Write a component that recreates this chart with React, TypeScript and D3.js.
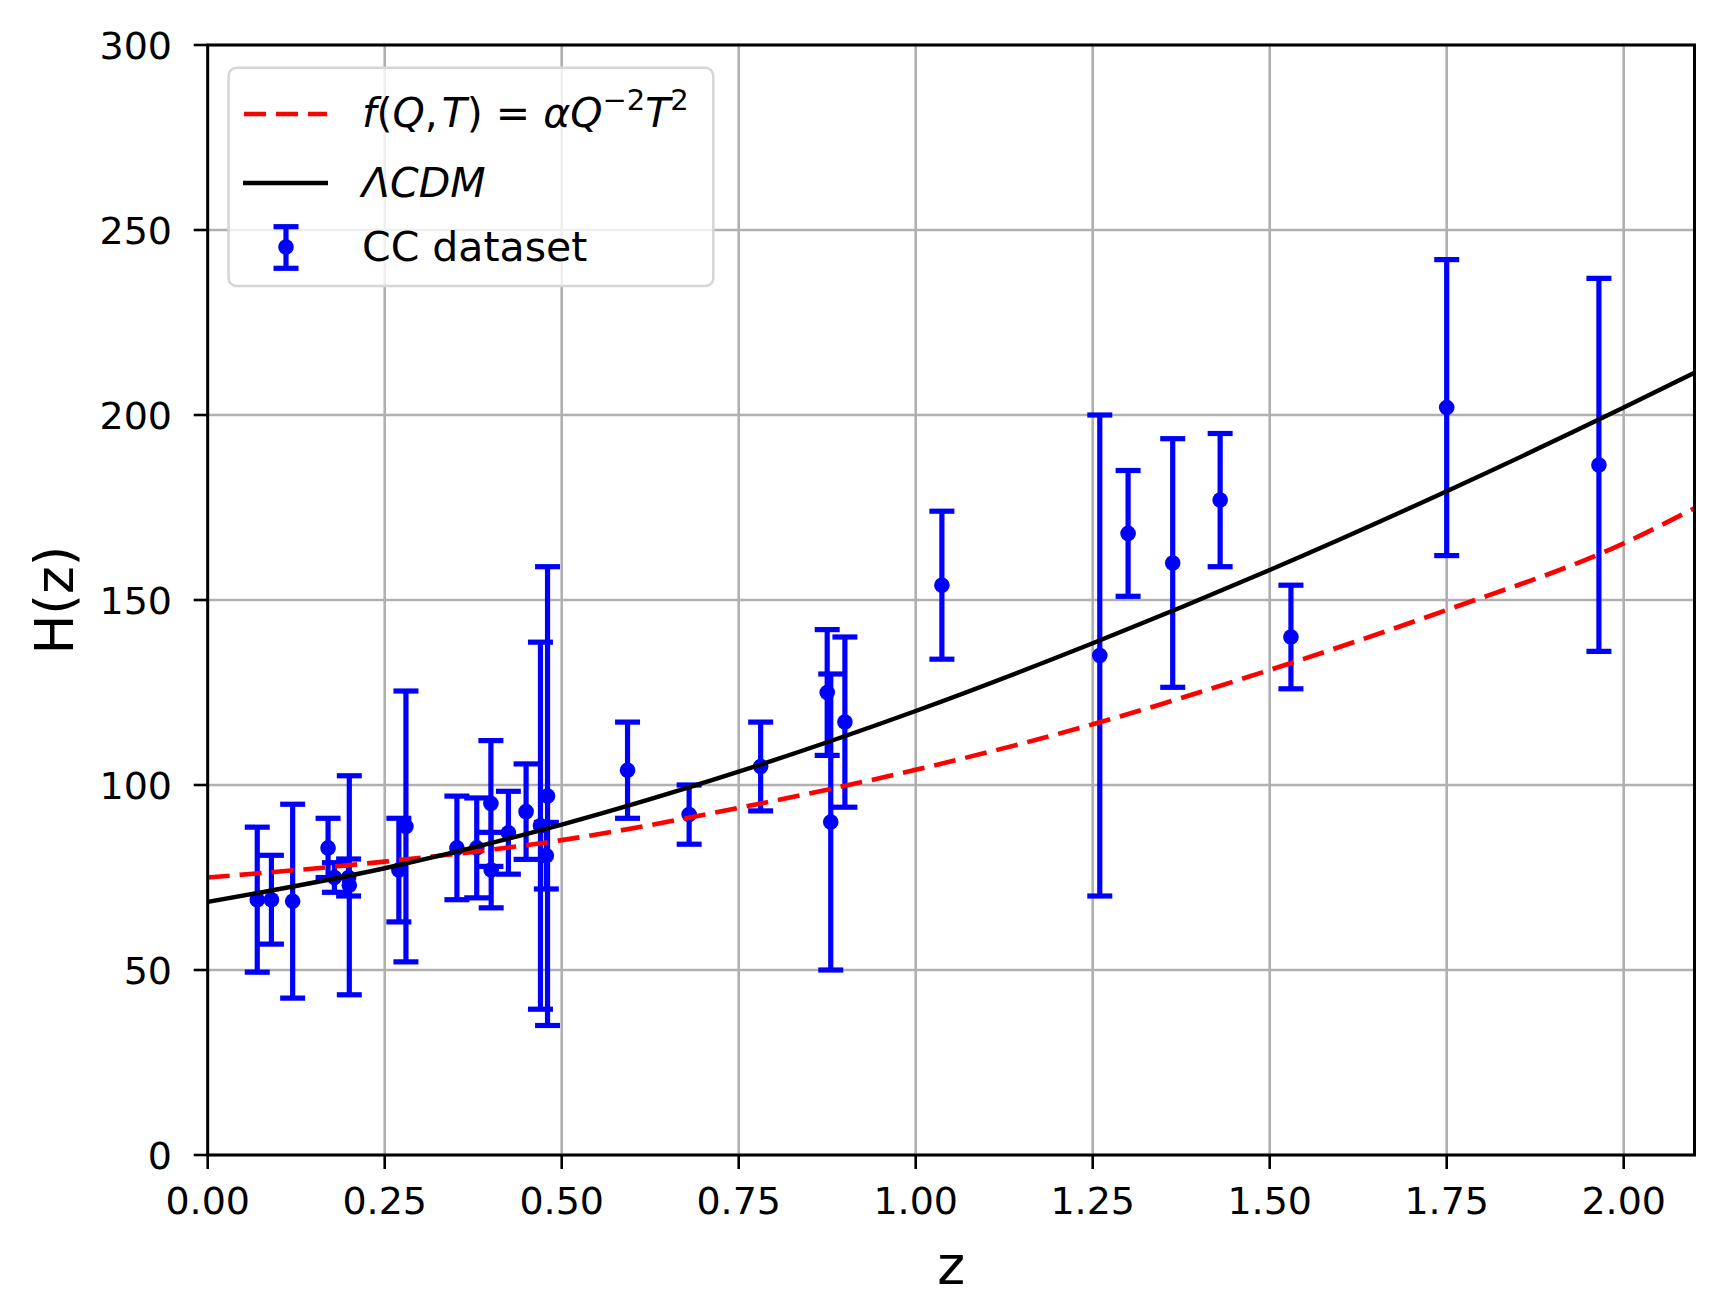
import React from 'react';
import * as d3 from 'd3';

// CC dataset (redshift, H(z), 1-sigma error)
const ccZ = [0.07, 0.09, 0.12, 0.17, 0.179, 0.199, 0.2, 0.27, 0.28, 0.352, 0.38, 0.4, 0.4004, 0.4247, 0.4497, 0.47, 0.4783, 0.48, 0.593, 0.68, 0.781, 0.875, 0.88, 0.9, 1.037, 1.26, 1.3, 1.363, 1.43, 1.53, 1.75, 1.965];
const ccH = [69, 69, 68.6, 83, 75, 75, 72.9, 77, 88.8, 83, 83, 95, 77, 87.1, 92.8, 89, 80.9, 97, 104, 92, 105, 125, 90, 117, 154, 135, 168, 160, 177, 140, 202, 186.5];
const ccErr = [19.6, 12, 26.2, 8, 4, 5, 29.6, 14, 36.6, 14, 13.5, 17, 10.2, 11.2, 12.9, 49.6, 9, 62, 13, 8, 12, 17, 40, 23, 20, 65, 17, 33.6, 18, 14, 40, 50.4];

// model curves
const curveZ = [0, 0.25, 0.5, 0.75, 1.0, 1.25, 1.5, 1.75, 2.0, 2.1];
const lcdmH = [68.4, 77.5, 89.3, 103.6, 120.0, 138.3, 158.1, 179.4, 202.0, 211.4];
const fqtH = [75.0, 79.3, 85.1, 93.8, 104.1, 116.4, 131.1, 147.3, 165.3, 174.8];

const xTicks = [0, 0.25, 0.5, 0.75, 1.0, 1.25, 1.5, 1.75, 2.0];
const yTicks = [0, 50, 100, 150, 200, 250, 300];

const W = 1728;
const H = 1313;
const left = 207.7, right = 1694.5, top = 45, bottom = 1155;

const font = '"DejaVu Sans", sans-serif';
const BLUE = '#0000ff';

export default function App() {
  const x = d3.scaleLinear().domain([0, 2.1]).range([left, right]);
  const y = d3.scaleLinear().domain([0, 300]).range([bottom, top]);

  const line = d3
    .line<number>()
    .x((_, i) => x(curveZ[i]))
    .y((d) => y(d))
    .curve(d3.curveMonotoneX);

  const capW = 12.5;

  return (
    <svg
      width={W}
      height={H}
      style={{ position: 'absolute', left: 0, top: 0, background: '#fff' }}
      fontFamily={font}
    >
      <defs>
        <clipPath id="plot">
          <rect x={left} y={top} width={right - left} height={bottom - top} />
        </clipPath>
      </defs>

      {/* grid */}
      <g stroke="#b0b0b0" strokeWidth={2.6}>
        {xTicks.map((t) => (
          <line key={'gx' + t} x1={x(t)} x2={x(t)} y1={top} y2={bottom} />
        ))}
        {yTicks.map((t) => (
          <line key={'gy' + t} x1={left} x2={right} y1={y(t)} y2={y(t)} />
        ))}
      </g>

      <g clipPath="url(#plot)">
        {/* error bars */}
        <g stroke={BLUE} strokeWidth={5.2}>
          {ccZ.map((z, i) => {
            const cx = x(z);
            const y0 = y(ccH[i] - ccErr[i]);
            const y1 = y(ccH[i] + ccErr[i]);
            return (
              <g key={'e' + i}>
                <line x1={cx} x2={cx} y1={y0} y2={y1} />
                <line x1={cx - capW} x2={cx + capW} y1={y0} y2={y0} />
                <line x1={cx - capW} x2={cx + capW} y1={y1} y2={y1} />
              </g>
            );
          })}
        </g>
        <g fill={BLUE}>
          {ccZ.map((z, i) => (
            <circle key={'p' + i} cx={x(z)} cy={y(ccH[i])} r={7.8} />
          ))}
        </g>

        {/* f(Q,T) model */}
        <path d={line(fqtH) || ''} fill="none" stroke="#ff0000" strokeWidth={4.6} strokeDasharray="22,10" />
        {/* LCDM */}
        <path d={line(lcdmH) || ''} fill="none" stroke="#000" strokeWidth={4.4} />
      </g>

      {/* spines */}
      <rect x={left} y={top} width={right - left} height={bottom - top} fill="none" stroke="#000" strokeWidth={3} />

      {/* x axis ticks */}
      <g>
        {xTicks.map((t) => (
          <g key={'xt' + t}>
            <line x1={x(t)} x2={x(t)} y1={bottom} y2={bottom + 14} stroke="#000" strokeWidth={2.6} />
            <text x={x(t)} y={1214} textAnchor="middle" fontSize={38} fill="#000">
              {t.toFixed(2)}
            </text>
          </g>
        ))}
      </g>

      {/* y axis ticks */}
      <g>
        {yTicks.map((t) => (
          <g key={'yt' + t}>
            <line x1={left - 14} x2={left} y1={y(t)} y2={y(t)} stroke="#000" strokeWidth={2.6} />
            <text x={172} y={y(t)} dy="0.37em" textAnchor="end" fontSize={38} fill="#000">
              {t}
            </text>
          </g>
        ))}
      </g>

      {/* axis labels */}
      <text x={(left + right) / 2} y={1284} textAnchor="middle" fontSize={53} fill="#000">
        z
      </text>
      <text
        transform={`translate(73, ${(top + bottom) / 2}) rotate(-90)`}
        textAnchor="middle"
        fontSize={53}
        fill="#000"
      >
        H(z)
      </text>

      {/* legend */}
      <g>
        <rect x={228.6} y={67.7} width={484.7} height={218.3} rx={8} fill="#fff" fillOpacity={0.8} stroke="#d6d6d6" strokeWidth={2.5} />
        <line x1={244} x2={327} y1={114} y2={114} stroke="#ff0000" strokeWidth={4.6} strokeDasharray="22,10" />
        <text x={362} y={127} fontSize={41} fill="#000">
          <tspan fontStyle="italic">f</tspan>
          <tspan>(</tspan>
          <tspan fontStyle="italic">Q</tspan>
          <tspan>,</tspan>
          <tspan fontStyle="italic" dx={4}>T</tspan>
          <tspan>) = </tspan>
          <tspan fontStyle="italic">αQ</tspan>
          <tspan fontSize={29} dy={-17}>−2</tspan>
          <tspan fontStyle="italic" dy={17}>T</tspan>
          <tspan fontSize={29} dy={-17}>2</tspan>
        </text>

        <line x1={243} x2={328} y1={183} y2={183} stroke="#000" strokeWidth={4.4} />
        <text x={362} y={197} fontSize={41} fontStyle="italic" fill="#000">
          ΛCDM
        </text>

        <g stroke={BLUE} strokeWidth={5.2}>
          <line x1={286} x2={286} y1={226.7} y2={268.3} />
          <line x1={286 - capW} x2={286 + capW} y1={226.7} y2={226.7} />
          <line x1={286 - capW} x2={286 + capW} y1={268.3} y2={268.3} />
        </g>
        <circle cx={286} cy={247} r={7.8} fill={BLUE} />
        <text x={362} y={261} fontSize={41} fill="#000">
          CC dataset
        </text>
      </g>
    </svg>
  );
}
